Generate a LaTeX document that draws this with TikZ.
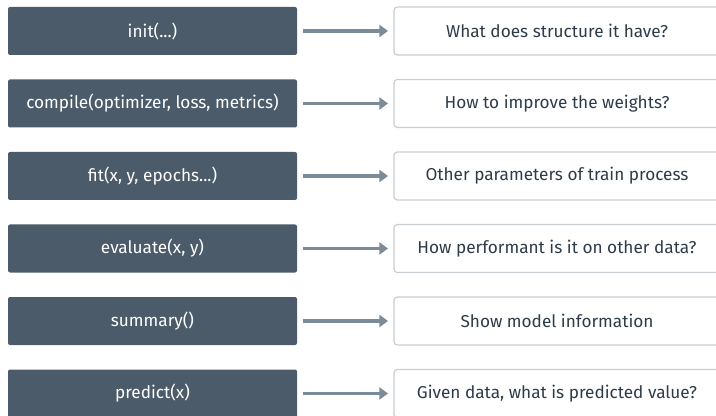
\documentclass[tikz,border=0pt]{standalone}
\usepackage{fontspec}
\setmainfont{Fira Sans}
\usetikzlibrary{arrows.meta}
\definecolor{slate}{HTML}{4B5B6A}
\definecolor{arrowgray}{HTML}{7B8B98}
\definecolor{edgegray}{HTML}{C9CED3}
\definecolor{inktext}{HTML}{2E3B48}
\tikzset{
  x=0.75pt, y=-0.75pt,
  callbox/.style={draw=none, fill=slate, rounded corners=1.5pt, minimum width=216.75pt,
    minimum height=36pt, text=white, font=\fontsize{12.9}{14}\selectfont, inner sep=0pt},
  answerbox/.style={draw=edgegray, line width=0.9pt, fill=white, rounded corners=2.5pt,
    minimum width=246pt, minimum height=36pt, text=inktext, inner sep=0pt},
  answertext/.style={text=inktext, font=\fontsize{12.9}{14}\selectfont},
  flow/.style={draw=arrowgray, line width=2.6pt, -{Triangle[length=6.5pt,width=9pt]}}
}
\begin{document}
\begin{tikzpicture}
\useasboundingbox (0,0) rectangle (716,416);
\clip (0,0) rectangle (716,416);
\foreach \i/\call/\answer in {
  0/{init(...)}/{What does structure it have?},
  1/{compile(optimizer, loss, metrics)}/{How to improve the weights?},
  2/{fit(x, y, epochs...)}/{Other parameters of train process},
  3/{evaluate(x, y)}/{How performant is it on other data?},
  4/{summary()}/{Show model information},
  5/{predict(x)}/{Given data, what is predicted value?}}
{
  \pgfmathsetmacro{\yc}{31+72.5*\i}
  \node[callbox] (call\i) at (152.5,\yc) {\call};
  \node[answerbox] (ans\i) at (558,\yc) {};
  \node[answertext] (anstext\i) at (557,\yc) {\answer};
  \coordinate (from\i) at (303,\yc);
  \coordinate (to\i) at (388,\yc);
  \draw[flow] (from\i) -- (to\i);
}
\end{tikzpicture}
\end{document}
